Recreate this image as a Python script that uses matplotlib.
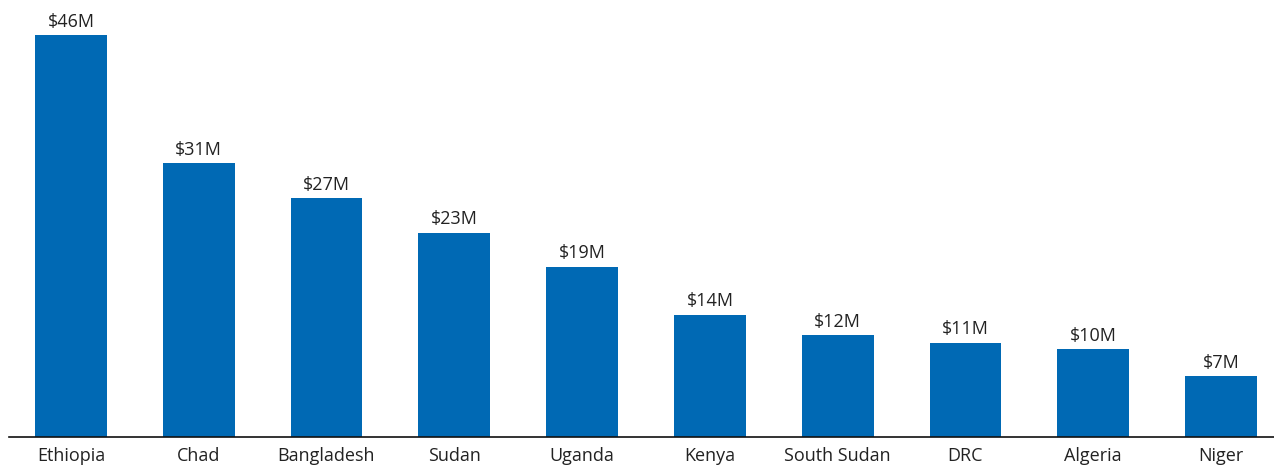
import matplotlib.pyplot as plt

countries = ['Ethiopia', 'Chad', 'Bangladesh', 'Sudan', 'Uganda',
             'Kenya', 'South Sudan', 'DRC', 'Algeria', 'Niger']
amounts = [46, 31.3, 27.3, 23.4, 19.5, 14, 11.7, 10.8, 10.1, 7]
labels = ['$46M', '$31M', '$27M', '$23M', '$19M',
          '$14M', '$12M', '$11M', '$10M', '$7M']

plt.rcParams['font.family'] = ['Open Sans', 'DejaVu Sans']

fig = plt.figure(figsize=(12.74, 4.66), dpi=100)
ax = fig.add_axes([9/1274, 1 - 437/466, 1 - 9/1274, (437 - 35)/466])

x = range(len(countries))
bars = ax.bar(x, amounts, width=72/128, color='#0069b4')
for b, lab in zip(bars, labels):
    ax.annotate(lab, (b.get_x() + b.get_width()/2, b.get_height()),
                xytext=(0, 3), textcoords='offset points',
                ha='center', va='bottom', fontsize=13, color='#222222',
                annotation_clip=False)

ax.set_xlim(-62/128, 9 + 53/128)
ax.set_ylim(0, 46)
ax.set_xticks(list(x))
ax.set_xticklabels(countries, fontsize=13, color='#222222')
ax.tick_params(axis='x', length=0, pad=7)
ax.set_yticks([])
for s in ['top', 'right', 'left']:
    ax.spines[s].set_visible(False)
ax.spines['bottom'].set_color('#111111')
ax.spines['bottom'].set_linewidth(1.2)

fig.savefig('out.png', dpi=100)
